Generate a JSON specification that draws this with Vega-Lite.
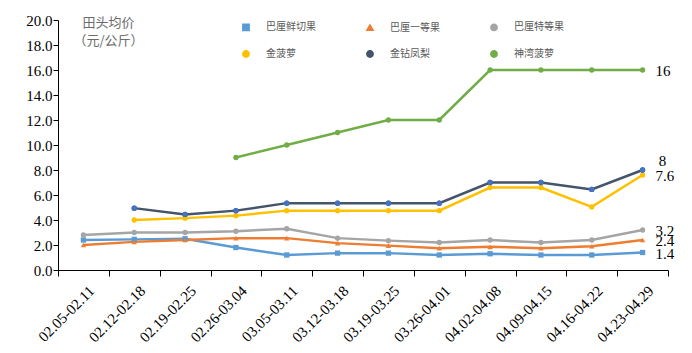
{
  "$schema": "https://vega.github.io/schema/vega-lite/v6.json",
  "autosize": {"type": "none"},
  "padding": {"left": 58, "top": 20, "right": 24, "bottom": 83},
  "width": 610,
  "height": 250,
  "background": "white",
  "config": {"view": {"stroke": null}},
  "data": {"values": [
    {"week": "02.05-02.11", "series": "巴厘鲜切果", "price": 2.4},
    {"week": "02.12-02.18", "series": "巴厘鲜切果", "price": 2.45},
    {"week": "02.19-02.25", "series": "巴厘鲜切果", "price": 2.5},
    {"week": "02.26-03.04", "series": "巴厘鲜切果", "price": 1.8},
    {"week": "03.05-03.11", "series": "巴厘鲜切果", "price": 1.2},
    {"week": "03.12-03.18", "series": "巴厘鲜切果", "price": 1.35},
    {"week": "03.19-03.25", "series": "巴厘鲜切果", "price": 1.35},
    {"week": "03.26-04.01", "series": "巴厘鲜切果", "price": 1.2},
    {"week": "04.02-04.08", "series": "巴厘鲜切果", "price": 1.3},
    {"week": "04.09-04.15", "series": "巴厘鲜切果", "price": 1.2},
    {"week": "04.16-04.22", "series": "巴厘鲜切果", "price": 1.2},
    {"week": "04.23-04.29", "series": "巴厘鲜切果", "price": 1.4},
    {"week": "02.05-02.11", "series": "巴厘一等果", "price": 2.0},
    {"week": "02.12-02.18", "series": "巴厘一等果", "price": 2.25},
    {"week": "02.19-02.25", "series": "巴厘一等果", "price": 2.4},
    {"week": "02.26-03.04", "series": "巴厘一等果", "price": 2.55},
    {"week": "03.05-03.11", "series": "巴厘一等果", "price": 2.55},
    {"week": "03.12-03.18", "series": "巴厘一等果", "price": 2.15},
    {"week": "03.19-03.25", "series": "巴厘一等果", "price": 1.95},
    {"week": "03.26-04.01", "series": "巴厘一等果", "price": 1.75},
    {"week": "04.02-04.08", "series": "巴厘一等果", "price": 1.85},
    {"week": "04.09-04.15", "series": "巴厘一等果", "price": 1.75},
    {"week": "04.16-04.22", "series": "巴厘一等果", "price": 1.9},
    {"week": "04.23-04.29", "series": "巴厘一等果", "price": 2.4},
    {"week": "02.05-02.11", "series": "巴厘特等果", "price": 2.8},
    {"week": "02.12-02.18", "series": "巴厘特等果", "price": 3.0},
    {"week": "02.19-02.25", "series": "巴厘特等果", "price": 3.0},
    {"week": "02.26-03.04", "series": "巴厘特等果", "price": 3.1},
    {"week": "03.05-03.11", "series": "巴厘特等果", "price": 3.3},
    {"week": "03.12-03.18", "series": "巴厘特等果", "price": 2.55},
    {"week": "03.19-03.25", "series": "巴厘特等果", "price": 2.35},
    {"week": "03.26-04.01", "series": "巴厘特等果", "price": 2.2},
    {"week": "04.02-04.08", "series": "巴厘特等果", "price": 2.4},
    {"week": "04.09-04.15", "series": "巴厘特等果", "price": 2.2},
    {"week": "04.16-04.22", "series": "巴厘特等果", "price": 2.4},
    {"week": "04.23-04.29", "series": "巴厘特等果", "price": 3.2},
    {"week": "02.12-02.18", "series": "金菠萝", "price": 4.0},
    {"week": "02.19-02.25", "series": "金菠萝", "price": 4.15},
    {"week": "02.26-03.04", "series": "金菠萝", "price": 4.35},
    {"week": "03.05-03.11", "series": "金菠萝", "price": 4.75},
    {"week": "03.12-03.18", "series": "金菠萝", "price": 4.75},
    {"week": "03.19-03.25", "series": "金菠萝", "price": 4.75},
    {"week": "03.26-04.01", "series": "金菠萝", "price": 4.75},
    {"week": "04.02-04.08", "series": "金菠萝", "price": 6.6},
    {"week": "04.09-04.15", "series": "金菠萝", "price": 6.6},
    {"week": "04.16-04.22", "series": "金菠萝", "price": 5.05},
    {"week": "04.23-04.29", "series": "金菠萝", "price": 7.6},
    {"week": "02.12-02.18", "series": "金钻凤梨", "price": 4.95},
    {"week": "02.19-02.25", "series": "金钻凤梨", "price": 4.45},
    {"week": "02.26-03.04", "series": "金钻凤梨", "price": 4.75},
    {"week": "03.05-03.11", "series": "金钻凤梨", "price": 5.35},
    {"week": "03.12-03.18", "series": "金钻凤梨", "price": 5.35},
    {"week": "03.19-03.25", "series": "金钻凤梨", "price": 5.35},
    {"week": "03.26-04.01", "series": "金钻凤梨", "price": 5.35},
    {"week": "04.02-04.08", "series": "金钻凤梨", "price": 7.0},
    {"week": "04.09-04.15", "series": "金钻凤梨", "price": 7.0},
    {"week": "04.16-04.22", "series": "金钻凤梨", "price": 6.45},
    {"week": "04.23-04.29", "series": "金钻凤梨", "price": 8.0},
    {"week": "02.26-03.04", "series": "神湾菠萝", "price": 9.0},
    {"week": "03.05-03.11", "series": "神湾菠萝", "price": 10.0},
    {"week": "03.12-03.18", "series": "神湾菠萝", "price": 11.0},
    {"week": "03.19-03.25", "series": "神湾菠萝", "price": 12.0},
    {"week": "03.26-04.01", "series": "神湾菠萝", "price": 12.0},
    {"week": "04.02-04.08", "series": "神湾菠萝", "price": 16.0},
    {"week": "04.09-04.15", "series": "神湾菠萝", "price": 16.0},
    {"week": "04.16-04.22", "series": "神湾菠萝", "price": 16.0},
    {"week": "04.23-04.29", "series": "神湾菠萝", "price": 16.0}
  ]},
  "encoding": {
    "x": {
      "field": "week", "type": "nominal", "sort": null,
      "scale": {"type": "band", "paddingInner": 0, "paddingOuter": 0},
      "axis": {
        "title": null, "tickBand": "extent", "labelAngle": -45,
        "labelFont": "Liberation Serif", "labelFontSize": 15, "labelColor": "#000000",
        "domainColor": "#000000", "tickColor": "#000000", "tickSize": 6, "labelPadding": 7, "labelOffset": 3
      }
    },
    "y": {
      "field": "price", "type": "quantitative",
      "scale": {"domain": [0, 20], "nice": false},
      "axis": {
        "title": ["田头均价", "（元/公斤）"], "titleAngle": 0, "titleX": 50, "titleY": -4,
        "titleAlign": "center", "titleBaseline": "top", "titleFont": "Noto Sans CJK SC",
        "titleFontSize": 13, "titleFontWeight": "normal", "titleColor": "#6b6b6b", "titleLineHeight": 18,
        "values": [0, 2, 4, 6, 8, 10, 12, 14, 16, 18, 20], "format": ".1f", "grid": false,
        "labelFont": "Liberation Serif", "labelFontSize": 15, "labelColor": "#000000",
        "domainColor": "#000000", "tickColor": "#000000", "tickSize": 5, "labelPadding": 1
      }
    }
  },
  "layer": [
    {
      "mark": {"type": "line", "strokeWidth": 2.5},
      "encoding": {
        "color": {
          "field": "series", "type": "nominal",
          "scale": {
            "domain": ["巴厘鲜切果", "巴厘一等果", "巴厘特等果", "金菠萝", "金钻凤梨", "神湾菠萝"],
            "range": ["#5B9BD5", "#ED7D31", "#A5A5A5", "#FFC000", "#44546A", "#70AD47"]
          },
          "legend": {
            "title": null, "orient": "none", "legendX": 183, "legendY": 2, "direction": "horizontal",
            "columns": 3, "columnPadding": 47, "rowPadding": 13, "padding": 0,
            "symbolSize": 40, "labelOffset": 15, "labelFont": "Noto Sans CJK SC", "labelFontSize": 10,
            "labelColor": "#595959"
          }
        }
      }
    },
    {
      "mark": {"type": "point", "filled": true, "opacity": 1, "size": 28},
      "encoding": {
        "color": {"field": "series", "type": "nominal"},
        "shape": {
          "field": "series", "type": "nominal",
          "scale": {
            "domain": ["巴厘鲜切果", "巴厘一等果", "巴厘特等果", "金菠萝", "金钻凤梨", "神湾菠萝"],
            "range": ["square", "triangle-up", "circle", "circle", "circle", "circle"]
          }
        }
      }
    },
    {
      "transform": [{"filter": "datum.series === '金钻凤梨'"}],
      "mark": {"type": "point", "filled": true, "opacity": 1, "size": 28, "shape": "circle", "color": "#4472C4"},
      "encoding": {}
    },
    {
      "transform": [{"filter": "datum.week === '04.23-04.29' && datum.series !== '金钻凤梨'"}],
      "mark": {"type": "text", "align": "left", "baseline": "middle", "dx": 13, "dy": 1, "font": "Liberation Serif", "fontSize": 15, "color": "#000000"},
      "encoding": {"text": {"field": "price", "type": "quantitative", "format": "~g"}}
    },
    {
      "transform": [{"filter": "datum.week === '04.23-04.29' && datum.series === '金钻凤梨'"}],
      "mark": {"type": "text", "align": "center", "baseline": "middle", "dx": 20, "dy": -9, "font": "Liberation Serif", "fontSize": 15, "color": "#000000"},
      "encoding": {"text": {"field": "price", "type": "quantitative", "format": "~g"}}
    }
  ]
}
